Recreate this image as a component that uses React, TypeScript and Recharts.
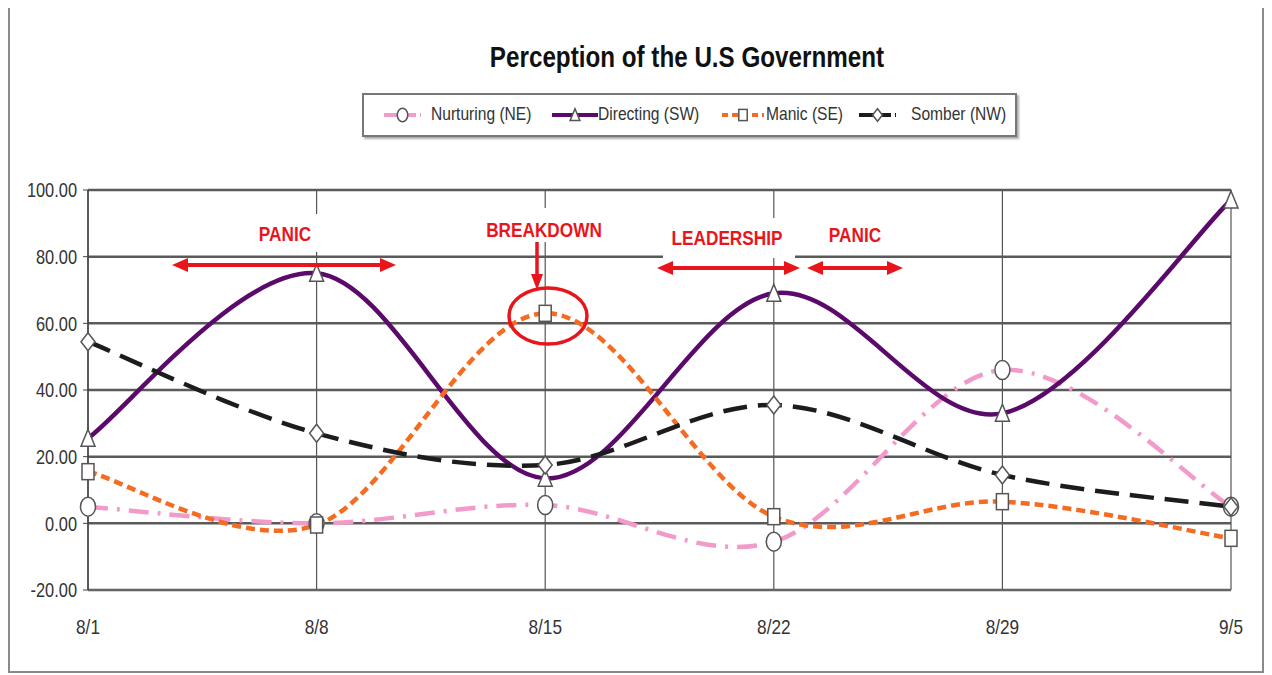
import React from "react";
import { LineChart, Line, XAxis, YAxis, CartesianGrid } from "recharts";

const dates = ["8/1", "8/8", "8/15", "8/22", "8/29", "9/5"];
const nurturing = [5, 0, 5.5, -5.5, 46, 5];
const directing = [25.5, 75, 13.5, 69, 33, 97];
const manic = [15.5, -0.5, 63, 2, 6.5, -4.5];
const somber = [54.5, 27, 17.5, 35.5, 14.5, 5];
const yTicks = [-20, 0, 20, 40, 60, 80, 100];

const data = dates.map((d, i) => ({
  date: d,
  nurturing: nurturing[i],
  directing: directing[i],
  manic: manic[i],
  somber: somber[i],
}));

const font = "'Liberation Sans', Arial, sans-serif";
const SQ = 0.82; // squeeze to fake a narrow face
const RED = "#e8161c";

// excel-ish smoothed line (catmull-rom bezier)
function smoothCurve(context: any) {
  let pts: number[][] = [];
  return {
    areaStart() {},
    areaEnd() {},
    lineStart() {
      pts = [];
    },
    point(x: number, y: number) {
      pts.push([+x, +y]);
    },
    lineEnd() {
      if (!pts.length) return;
      context.moveTo(pts[0][0], pts[0][1]);
      for (let i = 0; i < pts.length - 1; i++) {
        const p0 = pts[i - 1] || pts[i];
        const p1 = pts[i];
        const p2 = pts[i + 1];
        const p3 = pts[i + 2] || p2;
        context.bezierCurveTo(
          p1[0] + (p2[0] - p0[0]) / 6,
          p1[1] + (p2[1] - p0[1]) / 6,
          p2[0] - (p3[0] - p1[0]) / 6,
          p2[1] - (p3[1] - p1[1]) / 6,
          p2[0],
          p2[1]
        );
      }
    },
  };
}

function Marker({ shape, cx, cy, s = 1 }: { shape: string; cx: number; cy: number; s?: number }) {
  const st = { fill: "#fff", stroke: "#555", strokeWidth: 1.5 };
  if (shape === "circle") return <ellipse cx={cx} cy={cy} rx={7.5 * s} ry={9.5 * s} {...st} />;
  if (shape === "triangle")
    return (
      <polygon
        points={`${cx},${cy - 9 * s} ${cx + 7 * s},${cy + 8 * s} ${cx - 7 * s},${cy + 8 * s}`}
        {...st}
      />
    );
  if (shape === "square") return <rect x={cx - 6 * s} y={cy - 8 * s} width={12 * s} height={16 * s} {...st} />;
  return (
    <polygon
      points={`${cx},${cy - 9 * s} ${cx + 7 * s},${cy} ${cx},${cy + 9 * s} ${cx - 7 * s},${cy}`}
      {...st}
    />
  );
}

const dotFor = (shape: string) => (p: any) =>
  (
    <g key={`${shape}-${p.index}`}>
      <Marker shape={shape} cx={p.cx} cy={p.cy} />
    </g>
  );

const series = [
  { key: "nurturing", name: "Nurturing (NE)", color: "#f29ac9", dash: "20 9 3 9", shape: "circle" },
  { key: "directing", name: "Directing (SW)", color: "#5b0a6b", dash: undefined, shape: "triangle" },
  { key: "manic", name: "Manic (SE)", color: "#f36c21", dash: "9 5", shape: "square" },
  { key: "somber", name: "Somber (NW)", color: "#1c1c1c", dash: "24 11", shape: "diamond" },
];

// legend slots, page x of icon start/end and text start
const legendSlots = [
  [384, 421, 431],
  [552, 598, 598],
  [722, 764, 766],
  [859, 896, 911],
];

function Legend() {
  return (
    <div
      style={{
        position: "absolute",
        left: 354,
        top: 85,
        width: 655,
        height: 44,
        border: "2px solid #777",
        boxShadow: "2px 2px 2px #aaa",
        boxSizing: "border-box",
        background: "#fff",
      }}
    >
      {series.map((s, i) => {
        const [a, b, t] = legendSlots[i];
        const w = b - a;
        return (
          <React.Fragment key={s.key}>
            <svg width={w} height={20} style={{ position: "absolute", left: a - 364, top: 10 }}>
              <line
                x1={0}
                y1={10}
                x2={w}
                y2={10}
                stroke={s.color}
                strokeWidth={4}
                strokeDasharray={s.dash ? (s.key === "manic" ? "6 4" : "14 4") : undefined}
              />
              <Marker shape={s.shape} cx={w / 2} cy={10} s={0.7} />
            </svg>
            <span
              style={{
                position: "absolute",
                left: t - 364,
                top: 8,
                whiteSpace: "nowrap",
                fontFamily: font,
                fontSize: 19,
                color: "#333",
                transform: `scaleX(${SQ})`,
                transformOrigin: "left center",
              }}
            >
              {s.name}
            </span>
          </React.Fragment>
        );
      })}
    </div>
  );
}

function YTick(p: any) {
  return (
    <text
      transform={`translate(${p.x},${p.y}) scale(${SQ},1)`}
      textAnchor="end"
      dy="0.36em"
      fill="#333"
      fontFamily={font}
      fontSize={20}
    >
      {Number(p.payload.value).toFixed(2)}
    </text>
  );
}

function XTick(p: any) {
  return (
    <text
      transform={`translate(${p.x},${p.y}) scale(${SQ},1)`}
      textAnchor="middle"
      dy="0.71em"
      fill="#333"
      fontFamily={font}
      fontSize={21}
    >
      {p.payload.value}
    </text>
  );
}

function Annotations() {
  const arrow = (x1: number, x2: number, y: number) => (
    <g>
      <line x1={x1 + 12} y1={y} x2={x2 - 12} y2={y} stroke={RED} strokeWidth={4} />
      <polygon points={`${x1},${y} ${x1 + 16},${y - 7} ${x1 + 16},${y + 7}`} fill={RED} />
      <polygon points={`${x2},${y} ${x2 - 16},${y - 7} ${x2 - 16},${y + 7}`} fill={RED} />
    </g>
  );
  const label = (t: string, x: number, y: number, bx: number, by: number, bw: number, bh: number) => (
    <g>
      <rect x={bx} y={by} width={bw} height={bh} fill="#fff" />
      <text
        transform={`translate(${x},${y}) scale(${SQ},1)`}
        textAnchor="middle"
        fill={RED}
        fontFamily={font}
        fontSize={21}
        fontWeight={700}
      >
        {t}
      </text>
    </g>
  );
  return (
    <svg width={1256} height={667} style={{ position: "absolute", left: 0, top: 0, pointerEvents: "none" }}>
      <g transform="translate(-8,-8)">
        {label("PANIC", 285, 241, 245, 214, 80, 38)}
        {arrow(172, 396, 265)}
        {label("BREAKDOWN", 544, 237, 480, 208, 128, 34)}
        <line x1={537} y1={242} x2={537} y2={276} stroke={RED} strokeWidth={3.5} />
        <polygon points="537,290 531,274 543,274" fill={RED} />
        <ellipse cx={548} cy={316} rx={39} ry={28} fill="none" stroke={RED} strokeWidth={3.5} />
        {label("LEADERSHIP", 727, 245, 663, 218, 132, 40)}
        {arrow(657, 800, 268)}
        {label("PANIC", 855, 242, 820, 216, 72, 34)}
        {arrow(807, 903, 268)}
      </g>
    </svg>
  );
}

export default function App() {
  return (
    <div style={{ position: "relative", width: 1256, height: 667, background: "#fff" }}>
      <div
        style={{
          position: "absolute",
          left: 0,
          top: -2,
          width: 1252,
          height: 663,
          border: "2px solid #8a8a8a",
        }}
      />
      <div style={{ position: "absolute", left: 679, top: 33, width: 0 }}>
        <div
          style={{
            position: "absolute",
            left: -300,
            width: 600,
            textAlign: "center",
            fontFamily: font,
            fontWeight: 700,
            fontSize: 29,
            color: "#111",
            whiteSpace: "nowrap",
            transform: "scaleX(0.835)",
          }}
        >
          Perception of the U.S Government
        </div>
      </div>
      <Legend />
      <LineChart
        width={1256}
        height={662}
        data={data}
        margin={{ top: 182, right: 33, bottom: 50, left: 10 }}
        style={{ position: "absolute", left: 0, top: 0 }}
      >
        <CartesianGrid horizontal={true} vertical={false} stroke="#5a5a5a" strokeWidth={2.5} />
        <CartesianGrid horizontal={false} vertical={true} stroke="#555" strokeWidth={1.2} />
        <XAxis
          dataKey="date"
          padding={{ left: 0, right: 0 }}
          tickLine={false}
          axisLine={{ stroke: "#666", strokeWidth: 2 }}
          tickMargin={23}
          tick={<XTick />}
        />
        <YAxis
          domain={[-20, 100]}
          ticks={yTicks}
          width={70}
          tickSize={5}
          tickMargin={6}
          interval={0}
          axisLine={{ stroke: "#444", strokeWidth: 1.5 }}
          tickLine={{ stroke: "#444" }}
          tick={<YTick />}
        />
        {series.map((s) => (
          <Line
            key={s.key}
            dataKey={s.key}
            name={s.name}
            type={smoothCurve as any}
            stroke={s.color}
            strokeWidth={4.5}
            strokeDasharray={s.dash}
            dot={dotFor(s.shape)}
            activeDot={false}
            isAnimationActive={false}
          />
        ))}
      </LineChart>
      <Annotations />
    </div>
  );
}
